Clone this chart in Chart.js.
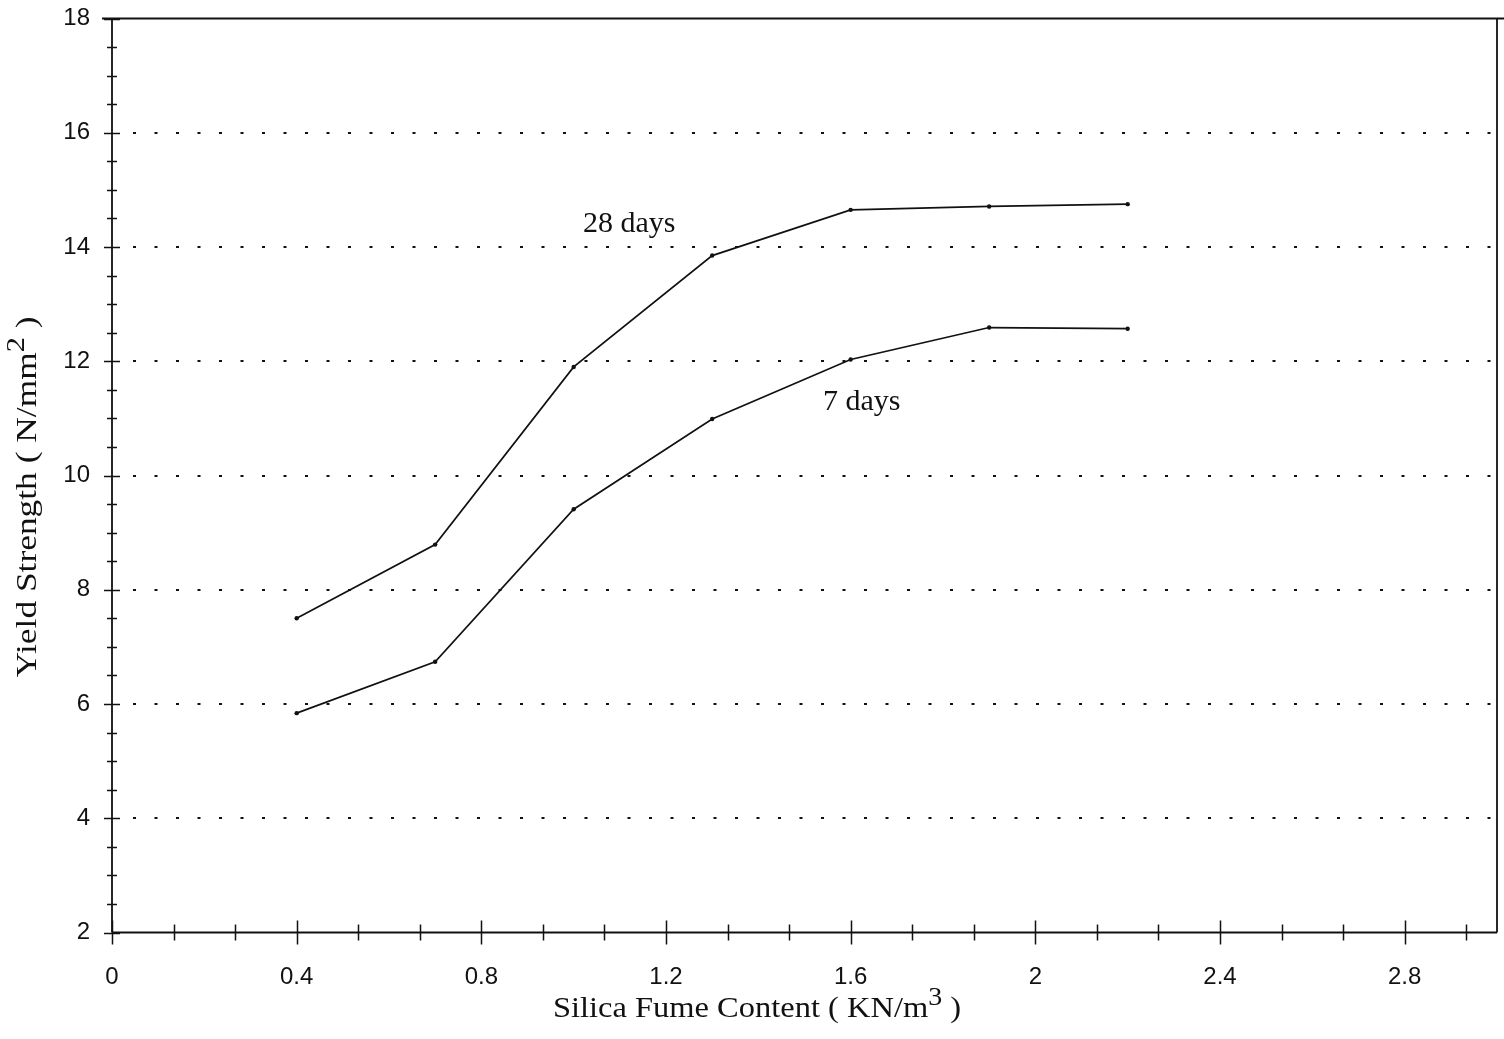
<!DOCTYPE html>
<html>
<head>
<meta charset="utf-8">
<title>Yield Strength vs Silica Fume Content</title>
<script src="https://cdn.jsdelivr.net/npm/chart.js@4.4.1/dist/chart.umd.min.js"></script>
<style>
  html, body { margin: 0; padding: 0; background: #fff; }
  canvas { display: block; }
</style>
</head>
<body>
<canvas id="myChart" width="1504" height="1039"></canvas>
<script>
// silica fume content (KN/m3) and yield strength (N/mm2) at two ages
const silicaFume = [0.4, 0.7, 1.0, 1.3, 1.6, 1.9, 2.2];
const strength28 = [7.5, 8.79, 11.9, 13.85, 14.65, 14.71, 14.75];
const strength7 = [5.84, 6.74, 9.41, 10.99, 12.03, 12.59, 12.57];
const seriesNames = ["28 days", "7 days"];

const xTickLabels = ["0", "0.4", "0.8", "1.2", "1.6", "2", "2.4", "2.8"];
const yTickLabels = ["2", "4", "6", "8", "10", "12", "14", "16", "18"];

// title pieces: text, superscript, text
const xTitle = ["Silica Fume Content ( KN/m", "3", " )"];
const yTitle = ["Yield Strength ( N/mm", "2", " )"];

const ink = "#111";
const sans = '"Liberation Sans", Arial, Helvetica, sans-serif';
const serif = '"Liberation Serif", "Times New Roman", serif';

function toPoints(ys) {
  return silicaFume.map((x, i) => ({ x: x, y: ys[i] }));
}

function drawTitle(ctx, parts, size, stretch) {
  const supSize = Math.round(size * 0.85);
  ctx.font = size + "px " + serif;
  const w0 = ctx.measureText(parts[0]).width;
  const w2 = ctx.measureText(parts[2]).width;
  ctx.font = supSize + "px " + serif;
  const w1 = ctx.measureText(parts[1]).width;
  const total = w0 + w1 + w2;
  ctx.scale(stretch, 1);
  ctx.textAlign = "left";
  ctx.textBaseline = "alphabetic";
  let x = -total / 2;
  ctx.font = size + "px " + serif;
  ctx.fillText(parts[0], x, 0);
  x += w0;
  ctx.font = supSize + "px " + serif;
  ctx.fillText(parts[1], x, -size * 0.42);
  x += w1;
  ctx.font = size + "px " + serif;
  ctx.fillText(parts[2], x, 0);
}

// dotted grid, crossing tick marks, frame and text
const paperAxes = {
  id: "paperAxes",
  beforeDatasetsDraw(chart) {
    const { ctx, chartArea: a, scales: { y } } = chart;
    ctx.save();
    ctx.strokeStyle = ink;
    ctx.lineWidth = 2;
    ctx.setLineDash([3, 18.5]);
    yTickLabels.forEach((t) => {
      const v = parseFloat(t);
      if (v <= y.min || v >= y.max) return;
      const py = Math.round(y.getPixelForValue(v));
      ctx.beginPath();
      ctx.moveTo(a.left + 21, py);
      ctx.lineTo(a.right, py);
      ctx.stroke();
    });
    ctx.restore();
  },
  afterDatasetsDraw(chart) {
    const { ctx, chartArea: a, scales: { x, y } } = chart;
    ctx.save();
    ctx.strokeStyle = ink;
    ctx.lineWidth = 1.8;

    // frame
    ctx.beginPath();
    ctx.moveTo(a.left - 10, a.top);
    ctx.lineTo(chart.width, a.top);
    ctx.moveTo(a.right, a.top);
    ctx.lineTo(a.right, a.bottom);
    ctx.moveTo(a.left, a.top);
    ctx.lineTo(a.left, a.bottom);
    ctx.moveTo(a.left, a.bottom);
    ctx.lineTo(a.right, a.bottom);
    ctx.stroke();

    // y ticks every 0.5, long ones on labelled values
    ctx.lineWidth = 1.5;
    ctx.beginPath();
    for (let v = y.min; v <= y.max + 1e-9; v += 0.5) {
      const py = Math.round(y.getPixelForValue(v)) + 0.5;
      const half = v % 2 === 0 ? 8 : 5;
      ctx.moveTo(a.left - half, py);
      ctx.lineTo(a.left + half, py);
    }
    // x ticks every 0.4/3, long ones on labelled values
    for (let i = 0; i * 0.4 / 3 < x.max - 1e-6; i++) {
      const px = Math.round(x.getPixelForValue(i * 0.4 / 3)) + 0.5;
      const half = i % 3 === 0 ? 12 : 8;
      ctx.moveTo(px, a.bottom - half);
      ctx.lineTo(px, a.bottom + half);
    }
    ctx.stroke();
    ctx.restore();
  },
  afterDraw(chart) {
    const { ctx, scales: { x, y } } = chart;
    ctx.save();
    ctx.fillStyle = ink;

    // curve labels
    ctx.font = "30px " + serif;
    ctx.textAlign = "left";
    ctx.textBaseline = "alphabetic";
    ctx.fillText(seriesNames[0], x.getPixelForValue(1.02), y.getPixelForValue(14.26));
    ctx.fillText(seriesNames[1], x.getPixelForValue(1.54), y.getPixelForValue(11.15));

    // axis titles
    ctx.save();
    ctx.translate(757, 1017);
    drawTitle(ctx, xTitle, 29, 1.12);
    ctx.restore();

    ctx.save();
    ctx.translate(36, 497);
    ctx.rotate(-Math.PI / 2);
    drawTitle(ctx, yTitle, 29, 1.22);
    ctx.restore();

    ctx.restore();
  }
};

const lineStyle = {
  borderColor: ink,
  backgroundColor: ink,
  borderWidth: 1.7,
  pointRadius: 2.2,
  pointBorderWidth: 0,
  pointBackgroundColor: ink,
  tension: 0,
  fill: false
};

new Chart(document.getElementById("myChart"), {
  type: "line",
  data: {
    datasets: [
      Object.assign({ label: seriesNames[0], data: toPoints(strength28) }, lineStyle),
      Object.assign({ label: seriesNames[1], data: toPoints(strength7) }, lineStyle)
    ]
  },
  plugins: [paperAxes],
  options: {
    responsive: false,
    animation: false,
    layout: { padding: { top: 18.5, right: 7, left: 0, bottom: 0 } },
    plugins: {
      legend: { display: false },
      tooltip: { enabled: false }
    },
    scales: {
      x: {
        type: "linear",
        min: 0,
        max: 3,
        grid: { display: false, drawTicks: false },
        border: { display: false },
        afterBuildTicks: (s) => {
          s.ticks = xTickLabels.map((t) => ({ value: parseFloat(t) }));
        },
        afterFit: (s) => {
          s.height = 106.5;
          s.paddingLeft = 0;
          s.paddingRight = 0;
        },
        ticks: {
          autoSkip: false,
          maxRotation: 0,
          padding: 30,
          color: ink,
          font: { family: sans, size: 24 },
          callback: (value, index) => xTickLabels[index]
        }
      },
      y: {
        type: "linear",
        min: 2,
        max: 18,
        grid: { display: false, drawTicks: false },
        border: { display: false },
        afterBuildTicks: (s) => {
          s.ticks = yTickLabels.map((t) => ({ value: parseFloat(t) }));
        },
        afterFit: (s) => {
          s.width = 112;
          s.paddingTop = 0;
          s.paddingBottom = 0;
        },
        ticks: {
          autoSkip: false,
          padding: 22,
          color: ink,
          font: { family: sans, size: 24 },
          callback: (value, index) => yTickLabels[index]
        }
      }
    }
  }
});
</script>
</body>
</html>
